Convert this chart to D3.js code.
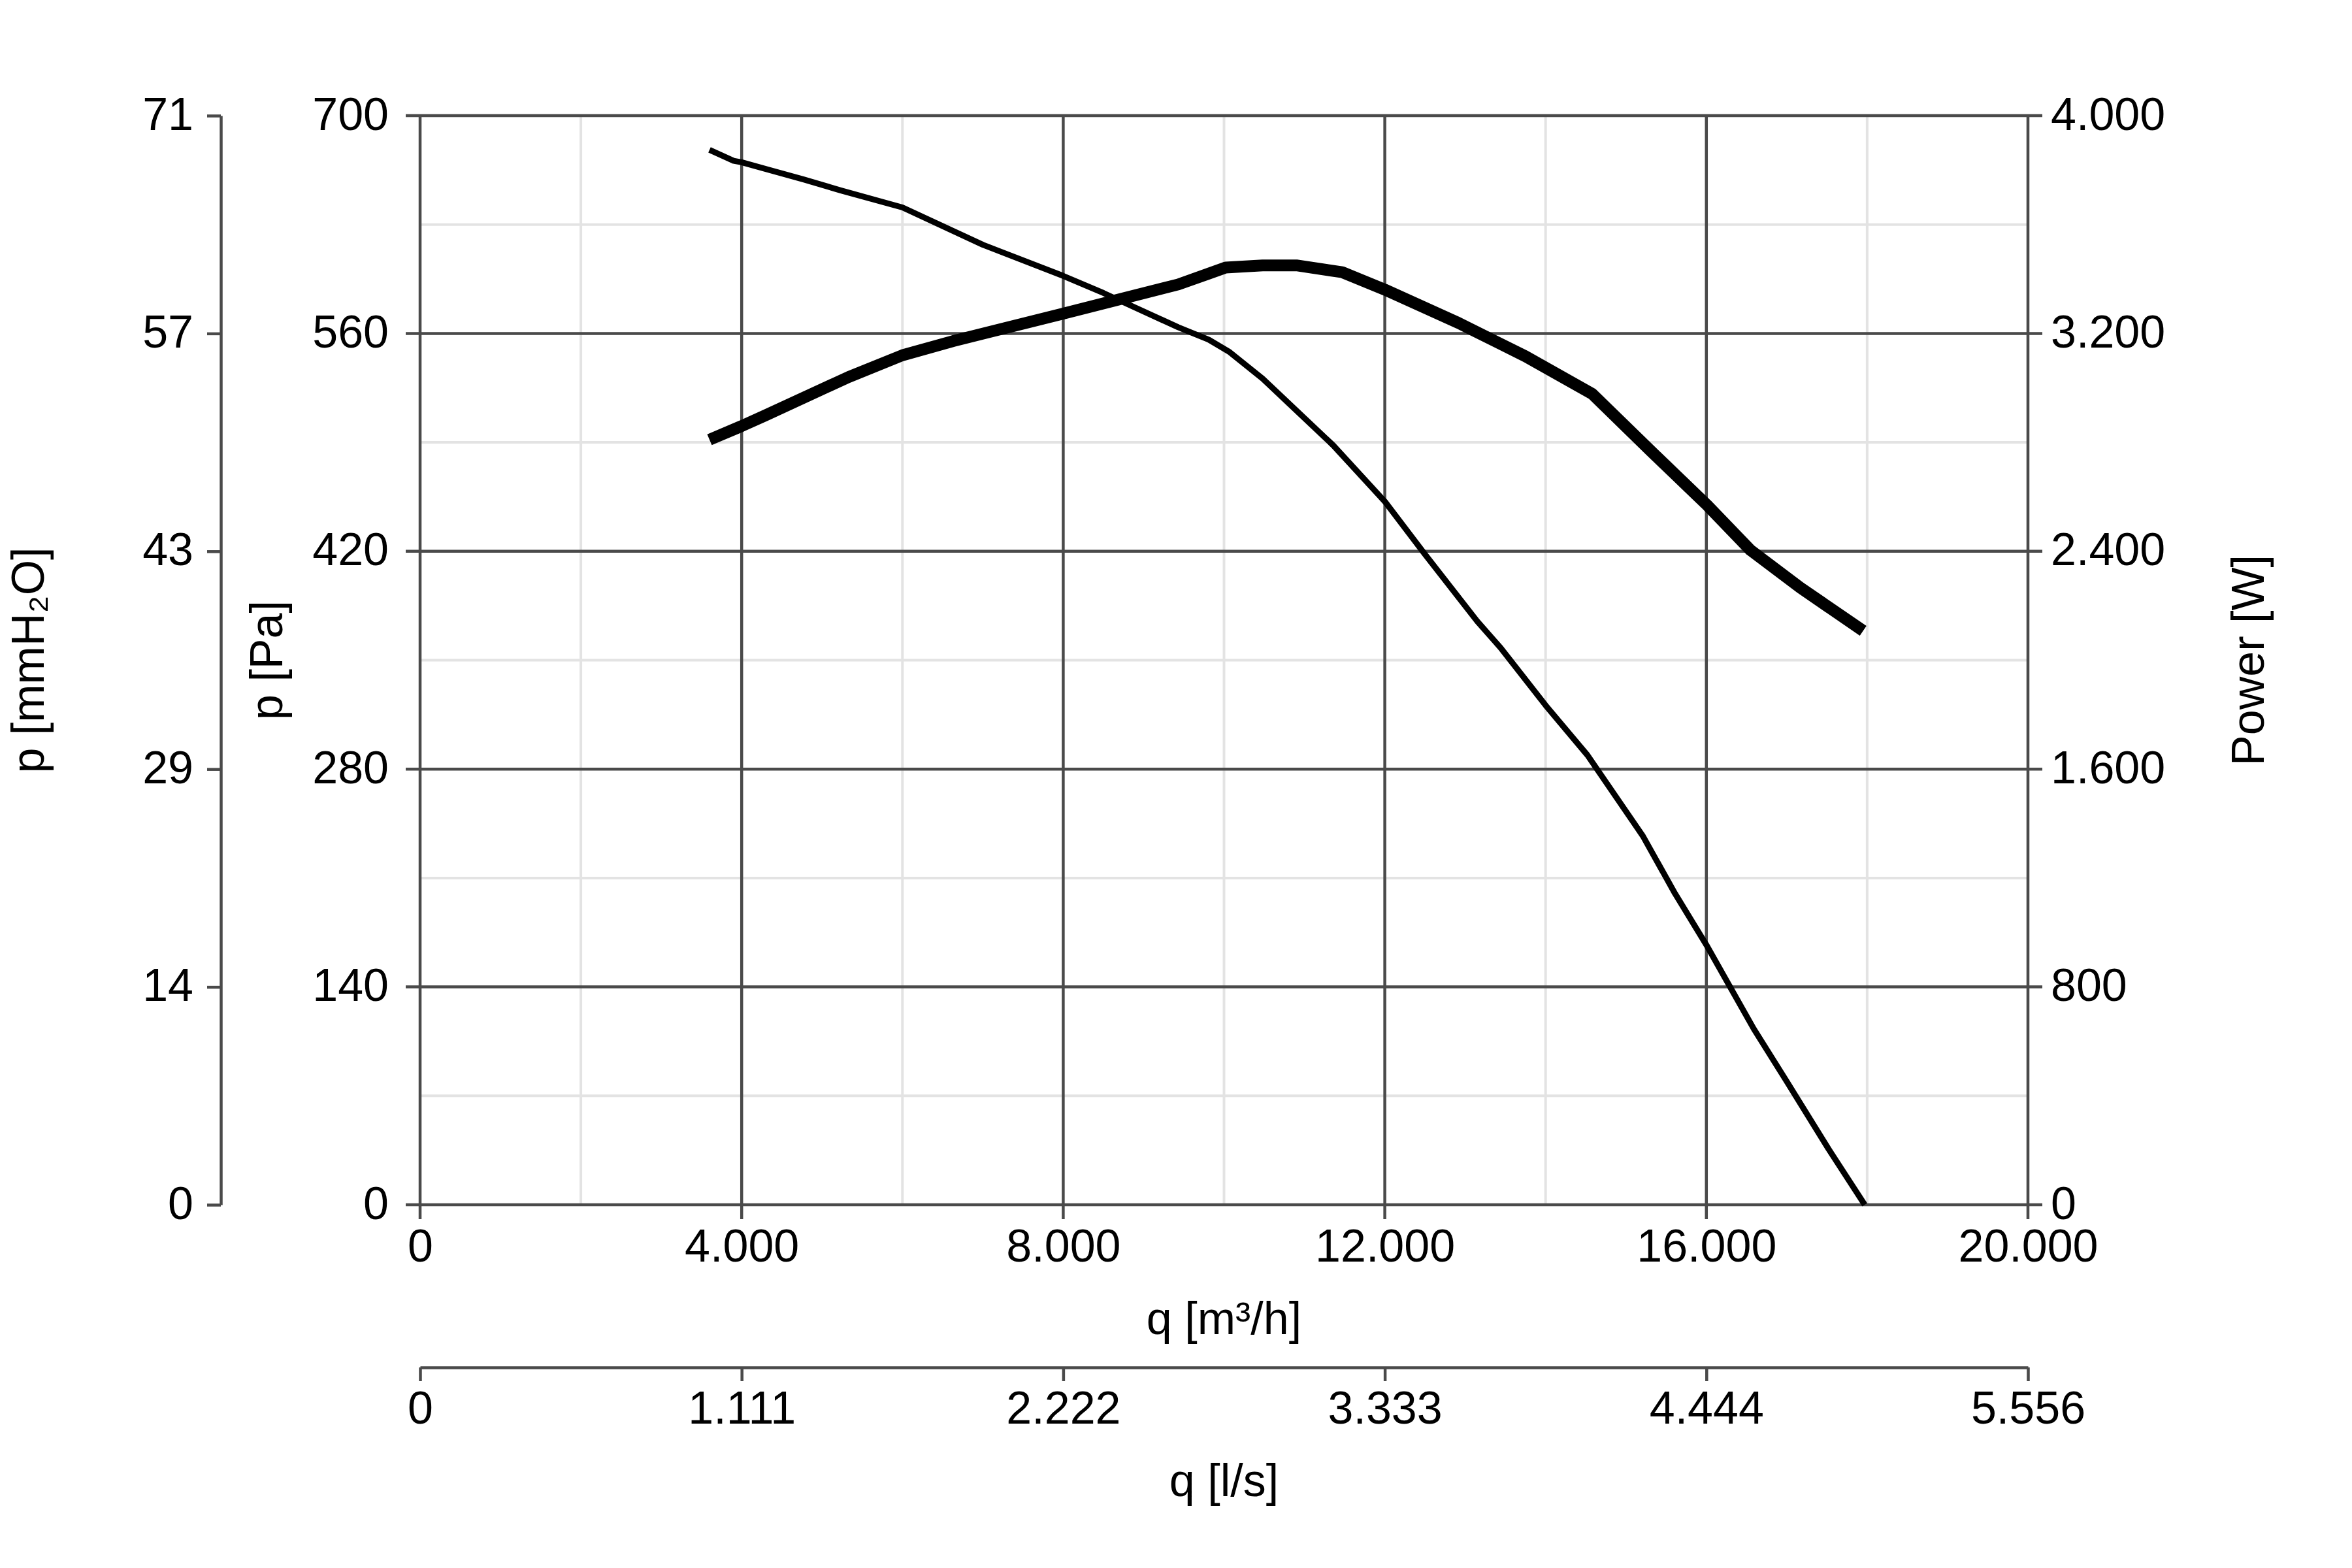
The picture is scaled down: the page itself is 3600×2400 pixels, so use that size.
<!DOCTYPE html>
<html lang="en">
<head>
    <meta charset="utf-8">
    <title>Fan curve</title>
    <script src="https://d3js.org/d3.v7.min.js" charset="utf-8"></script>
    <style>
        body { margin: 0; background: #fff; }
        text { font-family: "Liberation Sans", Arial, sans-serif; fill: #000; }
    </style>
</head>
<body>

    <script>

    // pressure curve, q in m3/h and static pressure in Pa
    var flowPressure = [3600, 3900, 4000, 4770, 5230, 6000, 7000, 8000, 8500, 9430, 9810, 10070, 10480, 11360, 12000, 12500, 13150, 13440, 14000, 14520, 15210, 15610, 16000, 16590, 16990, 17530, 17970]
    var pressure     = [678, 671, 670, 659, 652, 641, 617, 597, 586, 564, 556, 548, 531, 488, 452, 418, 375, 358, 321, 289, 237, 200, 167, 113, 80, 35, 0]

    // power curve, q in m3/h and W
    var flowPower = [3600, 4000, 4300, 5330, 6000, 6630, 8000, 8640, 9430, 9810, 10020, 10480, 10900, 11470, 12000, 12920, 13750, 14580, 15300, 16000, 16550, 17170, 17950]
    var power     = [2810, 2860, 2900, 3040, 3120, 3172, 3273, 3321, 3380, 3420, 3442, 3450, 3450, 3425, 3361, 3238, 3116, 2978, 2771, 2572, 2404, 2266, 2108]

    // ticks
    var flowTicks      = [0, 4000, 8000, 12000, 16000, 20000]
    var flowMinor      = [2000, 6000, 10000, 14000, 18000]
    var pressureTicks  = [0, 140, 280, 420, 560, 700]
    var pressureMinor  = [70, 210, 350, 490, 630]
    var powerTicks     = [0, 800, 1600, 2400, 3200, 4000]

    var W = 3600, H = 2400
    var mLeft = 643, mTop = 177
    var w = 3104 - 643, h = 1844 - 177
    var grey = "#4a4a4a", light = "#e3e3e3"
    var fs = 70

    var de = d3.formatLocale({decimal: ",", thousands: ".", grouping: [3], currency: ["", ""]})
    var fmt = de.format(",.0f")

    var x = d3.scaleLinear().domain([0, 20000]).range([0, w])
    var y = d3.scaleLinear().domain([0, 700]).range([h, 0])
    var yPow = d3.scaleLinear().domain([0, 4000]).range([h, 0])
    var yMm = d3.scaleLinear().domain([0, 700 / 9.80665]).range([h, 0])
    var xLs = d3.scaleLinear().domain([0, 20000 / 3.6]).range([0, w])

    var svg = d3.select("body").append("svg").attr("width", W).attr("height", H)
    var g = svg.append("g").attr("transform", "translate(" + mLeft + "," + mTop + ")")

    // minor grid
    g.selectAll(".vminor").data(flowMinor).enter().append("line")
        .attr("x1", function (d) { return x(d) }).attr("x2", function (d) { return x(d) })
        .attr("y1", 0).attr("y2", h)
        .attr("stroke", light).attr("stroke-width", 4)
    g.selectAll(".hminor").data(pressureMinor).enter().append("line")
        .attr("y1", function (d) { return y(d) }).attr("y2", function (d) { return y(d) })
        .attr("x1", 0).attr("x2", w)
        .attr("stroke", light).attr("stroke-width", 4)

    // major grid (spills out as ticks)
    g.selectAll(".vmajor").data(flowTicks).enter().append("line")
        .attr("x1", function (d) { return x(d) }).attr("x2", function (d) { return x(d) })
        .attr("y1", 0).attr("y2", h + 22)
        .attr("stroke", grey).attr("stroke-width", 4.5)
    g.selectAll(".hmajor").data(pressureTicks).enter().append("line")
        .attr("y1", function (d) { return y(d) }).attr("y2", function (d) { return y(d) })
        .attr("x1", -22).attr("x2", w + 22)
        .attr("stroke", grey).attr("stroke-width", 4.5)

    // axes, labels only (lines come from the grid above)
    function style(sel, anchor) {
        sel.select(".domain").remove()
        sel.selectAll(".tick line").remove()
        sel.selectAll("text").attr("font-size", fs).attr("fill", "#000")
            .attr("font-family", "Liberation Sans, Arial, sans-serif")
        if (anchor) sel.selectAll("text").attr("text-anchor", anchor)
    }

    var ax = g.append("g").attr("transform", "translate(0," + h + ")")
        .call(d3.axisBottom(x).tickValues(flowTicks).tickFormat(fmt).tickSize(0).tickPadding(0))
    style(ax)
    ax.selectAll("text").attr("dy", null).attr("y", 87)

    var ay = g.append("g")
        .call(d3.axisLeft(y).tickValues(pressureTicks).tickFormat(fmt).tickSize(0).tickPadding(0))
    style(ay, "end")
    ay.selectAll("text").attr("x", -48).attr("dy", "0.3em")

    var ap = g.append("g").attr("transform", "translate(" + w + ",0)")
        .call(d3.axisRight(yPow).tickValues(powerTicks).tickFormat(fmt).tickSize(0).tickPadding(0))
    style(ap, "start")
    ap.selectAll("text").attr("x", 35).attr("dy", "0.3em")

    // mmH2O axis, separate at the far left
    var am = svg.append("g").attr("transform", "translate(338," + mTop + ")")
        .call(d3.axisLeft(yMm).tickValues(pressureTicks.map(function (d) { return d / 9.80665 }))
            .tickFormat(d3.format(".0f")).tickSize(21).tickSizeOuter(0).tickPadding(0))
    am.select(".domain").attr("stroke", grey).attr("stroke-width", 4.5)
    am.selectAll(".tick line").attr("stroke", grey).attr("stroke-width", 4.5)
    am.selectAll("text").attr("font-size", fs).attr("fill", "#000").attr("text-anchor", "end")
        .attr("font-family", "Liberation Sans, Arial, sans-serif")
        .attr("x", -42).attr("dy", "0.3em")

    // l/s axis, below
    var al = svg.append("g").attr("transform", "translate(" + mLeft + ",2093)")
        .call(d3.axisBottom(xLs).tickValues(flowTicks.map(function (d) { return d / 3.6 }))
            .tickFormat(fmt).tickSize(21).tickSizeOuter(0).tickPadding(0))
    al.select(".domain").attr("stroke", grey).attr("stroke-width", 4.5)
    al.selectAll(".tick line").attr("stroke", grey).attr("stroke-width", 4.5)
    al.selectAll("text").attr("font-size", fs).attr("fill", "#000")
        .attr("font-family", "Liberation Sans, Arial, sans-serif")
        .attr("dy", null).attr("y", 86)

    // curves
    var pLine = d3.line().x(function (d) { return x(d[0]) }).y(function (d) { return y(d[1]) })
    var wLine = d3.line().x(function (d) { return x(d[0]) }).y(function (d) { return yPow(d[1]) })

    g.append("path").datum(d3.zip(flowPower, power)).attr("d", wLine)
        .attr("fill", "none").attr("stroke", "#000").attr("stroke-width", 18).attr("stroke-linejoin", "round")
    g.append("path").datum(d3.zip(flowPressure, pressure)).attr("d", pLine)
        .attr("fill", "none").attr("stroke", "#000").attr("stroke-width", 9).attr("stroke-linejoin", "round")

    // titles
    var cx = mLeft + w / 2, cy = mTop + h / 2
    svg.append("text").attr("x", cx).attr("y", 2042).attr("text-anchor", "middle").attr("font-size", fs).text("q [m³/h]")
    svg.append("text").attr("x", cx).attr("y", 2290).attr("text-anchor", "middle").attr("font-size", fs).text("q [l/s]")
    svg.append("text").attr("transform", "translate(67," + cy + ") rotate(-90)").attr("text-anchor", "middle").attr("font-size", fs).text("p [mmH₂O]")
    svg.append("text").attr("transform", "translate(432," + cy + ") rotate(-90)").attr("text-anchor", "middle").attr("font-size", fs).text("p [Pa]")
    svg.append("text").attr("transform", "translate(3465," + cy + ") rotate(-90)").attr("text-anchor", "middle").attr("font-size", fs).text("Power [W]")

    </script>

</body>
</html>
